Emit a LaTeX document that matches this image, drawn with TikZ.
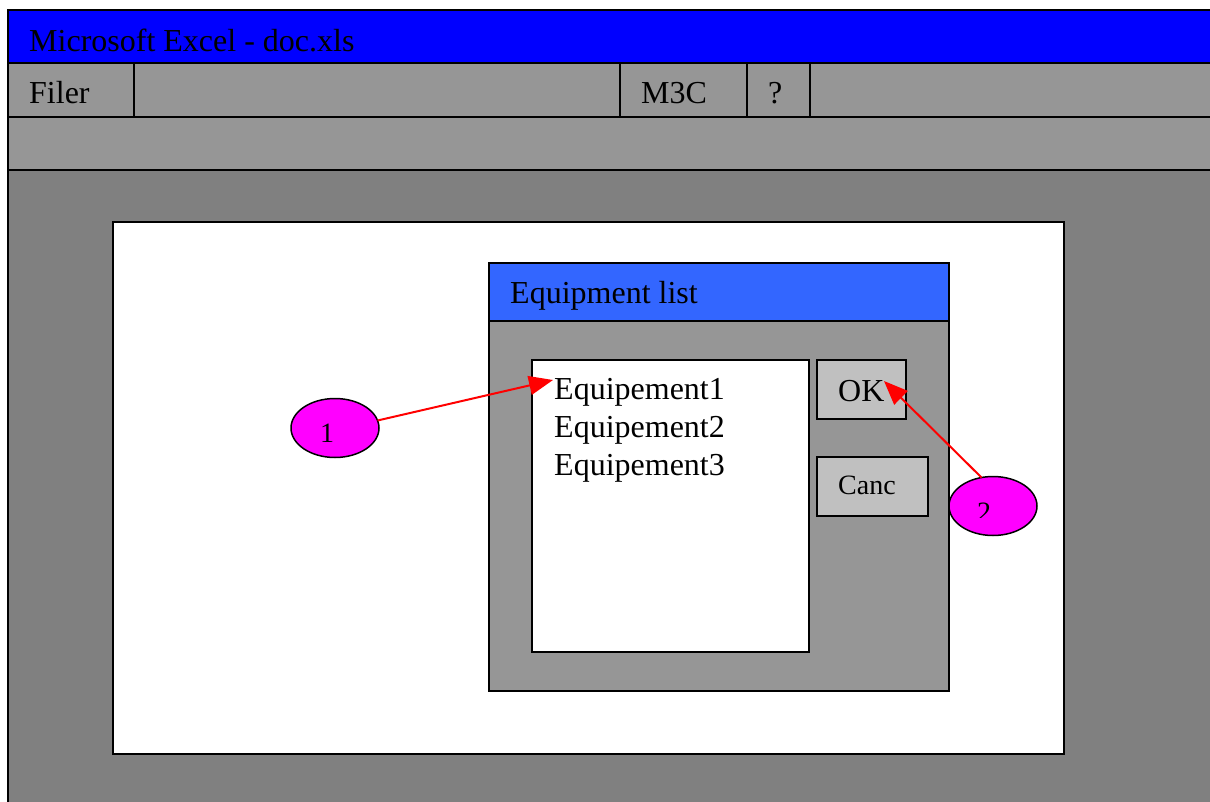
\documentclass[tikz,border=0pt]{standalone}
\usepackage{fontspec}
\setmainfont{Liberation Serif}
\usetikzlibrary{arrows.meta,shapes.geometric}
\definecolor{titleblue}{RGB}{0,0,255}
\definecolor{dlgblue}{RGB}{51,102,255}
\definecolor{bargray}{RGB}{150,150,150}
\definecolor{workgray}{RGB}{128,128,128}
\definecolor{btngray}{RGB}{192,192,192}
\definecolor{calloutfill}{RGB}{255,0,255}
\begin{document}
\begin{tikzpicture}[x=1pt,y=-1pt,
  box/.style={draw=black,line width=2pt,anchor=north west,inner sep=0pt,outer sep=0pt},
  lbl/.style={anchor=base west,inner sep=0pt,font=\fontsize{32}{38}\selectfont},
  btnlbl/.style={anchor=base west,inner sep=0pt,font=\fontsize{28}{32}\selectfont},
  callout/.style={ellipse,draw=black,line width=1.5pt,fill=calloutfill,minimum width=88pt,minimum height=59pt,inner sep=0pt,outer sep=0pt},
  numlbl/.style={anchor=base,inner sep=0pt,font=\fontsize{28}{30}\selectfont},
  pointer/.style={draw=red,line width=2pt,-{Triangle[length=24pt,width=19pt]}}]
\useasboundingbox (0,0) rectangle (1210,802);
\fill[white] (0,0) rectangle (1210,802);
\begin{scope}
\clip (0,0) rectangle (1210,802);
% application window
\node[box,fill=workgray,minimum width=1222pt,minimum height=810pt] (win) at (8,10) {};
\node[box,fill=titleblue,minimum width=1222pt,minimum height=53pt] (title) at (8,10) {};
\node[box,fill=bargray,minimum width=1222pt,minimum height=54pt] (menu) at (8,63) {};
\node[box,fill=bargray,minimum width=1222pt,minimum height=53pt] (tools) at (8,117) {};
% menu cells
\node[box,minimum width=126pt,minimum height=54pt] (mfiler) at (8,63) {};
\node[box,minimum width=486pt,minimum height=54pt] (mblank) at (134,63) {};
\node[box,minimum width=127pt,minimum height=54pt] (mm3c) at (620,63) {};
\node[box,minimum width=63pt,minimum height=54pt] (mhelp) at (747,63) {};
\end{scope}
\node[lbl] (ttitle) at (29,52) {Microsoft Excel - doc.xls};
\node[lbl] (tfiler) at (29,104) {Filer};
\node[lbl] (tm3c) at (641,104) {M3C};
\node[lbl] (thelp) at (768,104) {?};
% worksheet
\node[box,fill=white,minimum width=951pt,minimum height=532pt] (sheet) at (113,222) {};
% dialog
\node[box,fill=bargray,minimum width=460pt,minimum height=428pt] (dlg) at (489,263) {};
\node[box,fill=dlgblue,minimum width=460pt,minimum height=58pt] (dlgtitle) at (489,263) {};
\node[lbl] (tdlg) at (510,304) {Equipment list};
\node[box,fill=white,minimum width=277pt,minimum height=292pt] (list) at (532,360) {};
\node[lbl] (item1) at (554,399) {Equipement1};
\node[lbl] (item2) at (554,437) {Equipement2};
\node[lbl] (item3) at (554,475) {Equipement3};
\node[box,fill=btngray,minimum width=89pt,minimum height=59pt] (ok) at (817,360) {};
\node[lbl] (tok) at (838,401) {OK};
\node[box,fill=btngray,minimum width=111pt,minimum height=59pt] (canc) at (817,457) {};
\node[btnlbl] (tcanc) at (838,494) {Canc};
% numbered callouts
\node[callout] (c1) at (335,428) {};
\node[numlbl] (n1) at (327,442) {1};
\node[callout] (c2) at (993,506) {};
\begin{scope}
\clip (950,470) rectangle (1040,517);
\node[numlbl] (n2) at (984,521) {2};
\end{scope}
\coordinate (p1) at (553,380);
\coordinate (p2) at (884,381);
\draw[pointer] (c1.10) -- (p1);
\draw[pointer] (c2.112) -- (p2);
\end{tikzpicture}
\end{document}
